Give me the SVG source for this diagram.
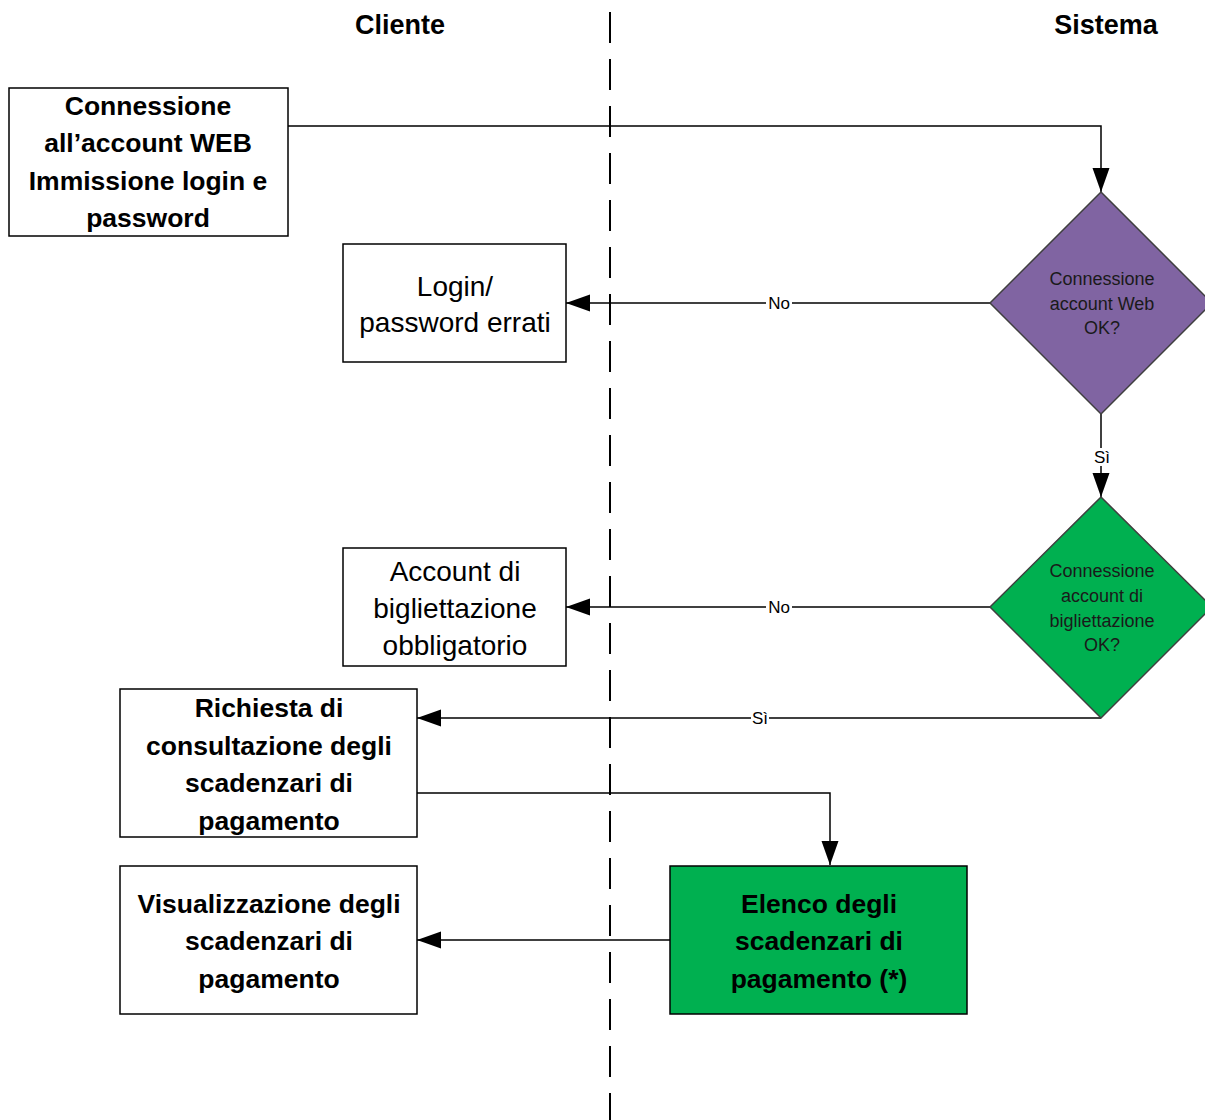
<svg xmlns="http://www.w3.org/2000/svg" width="1205" height="1120" viewBox="0 0 1205 1120">
<style>
text{font-family:"Liberation Sans",Arial,sans-serif;fill:#000;text-anchor:middle;dominant-baseline:central}
.h{font-size:27px;font-weight:bold}
.b{font-size:26.5px;font-weight:bold}
.r{font-size:28px}
.d{font-size:18px;fill:#1a1a1a}
.l{font-size:17px}
.box{fill:#fff;stroke:#000;stroke-width:1.5}
.c{fill:none;stroke:#000;stroke-width:1.5}
</style>
<defs>
<marker id="ah" markerWidth="24" markerHeight="18" refX="24" refY="9" orient="auto" markerUnits="userSpaceOnUse">
<path d="M0,0.5 L24,9 L0,17.5 Z" fill="#000"/>
</marker>
</defs>
<rect width="1205" height="1120" fill="#fff"/>
<line x1="610" y1="12" x2="610" y2="1120" stroke="#000" stroke-width="2" stroke-dasharray="31,16"/>
<text class="h" x="400" y="25">Cliente</text>
<text class="h" x="1106" y="25">Sistema</text>
<g id="connectors">
<path class="c" d="M288,126 H1101 V192" marker-end="url(#ah)"/>
<path class="c" d="M990,303 H566" marker-end="url(#ah)"/>
<path class="c" d="M1101,414 V497" marker-end="url(#ah)"/>
<path class="c" d="M990,607 H566" marker-end="url(#ah)"/>
<path class="c" d="M1101,718 H417" marker-end="url(#ah)"/>
<path class="c" d="M417,793 H830 V865" marker-end="url(#ah)"/>
<path class="c" d="M670,940 H417" marker-end="url(#ah)"/>
<rect x="766" y="294" width="26" height="18" fill="#fff"/><text class="l" x="779" y="303">No</text>
<rect x="766" y="598" width="26" height="18" fill="#fff"/><text class="l" x="779" y="607">No</text>
<rect x="1093" y="448" width="18" height="18" fill="#fff"/><text class="l" x="1102" y="457">Sì</text>
<rect x="751" y="709" width="18" height="18" fill="#fff"/><text class="l" x="760" y="718">Sì</text>
</g>
<g id="n1">
<rect class="box" x="9" y="88" width="279" height="148"/>
<text class="b" x="148" y="106">Connessione</text>
<text class="b" x="148" y="143">all’account WEB</text>
<text class="b" x="148" y="181">Immissione login e</text>
<text class="b" x="148" y="218">password</text>
</g>
<g id="n2">
<polygon points="1101,192 1212,303 1101,414 990,303" fill="#8064A2" stroke="#3f3f3f" stroke-width="1.5"/>
<text class="d" x="1102" y="279">Connessione</text>
<text class="d" x="1102" y="304">account Web</text>
<text class="d" x="1102" y="328">OK?</text>
</g>
<g id="n3">
<rect class="box" x="343" y="244" width="223" height="118"/>
<text class="r" x="455" y="286">Login/</text>
<text class="r" x="455" y="322">password errati</text>
</g>
<g id="n4">
<polygon points="1101,497 1212,607 1101,718 990,607" fill="#00B050" stroke="#3f3f3f" stroke-width="1.5"/>
<text class="d" x="1102" y="571">Connessione</text>
<text class="d" x="1102" y="596">account di</text>
<text class="d" x="1102" y="621">bigliettazione</text>
<text class="d" x="1102" y="645">OK?</text>
</g>
<g id="n5">
<rect class="box" x="343" y="548" width="223" height="118"/>
<text class="r" x="455" y="571">Account di</text>
<text class="r" x="455" y="608">bigliettazione</text>
<text class="r" x="455" y="645">obbligatorio</text>
</g>
<g id="n6">
<rect class="box" x="120" y="689" width="297" height="148"/>
<text class="b" x="269" y="708">Richiesta di</text>
<text class="b" x="269" y="746">consultazione degli</text>
<text class="b" x="269" y="783">scadenzari di</text>
<text class="b" x="269" y="821">pagamento</text>
</g>
<g id="n7">
<rect x="670" y="866" width="297" height="148" fill="#00B050" stroke="#000" stroke-width="1.5"/>
<text class="b" x="819" y="904">Elenco degli</text>
<text class="b" x="819" y="941">scadenzari di</text>
<text class="b" x="819" y="979">pagamento (*)</text>
</g>
<g id="n8">
<rect class="box" x="120" y="866" width="297" height="148"/>
<text class="b" x="269" y="904">Visualizzazione degli</text>
<text class="b" x="269" y="941">scadenzari di</text>
<text class="b" x="269" y="979">pagamento</text>
</g>
</svg>
